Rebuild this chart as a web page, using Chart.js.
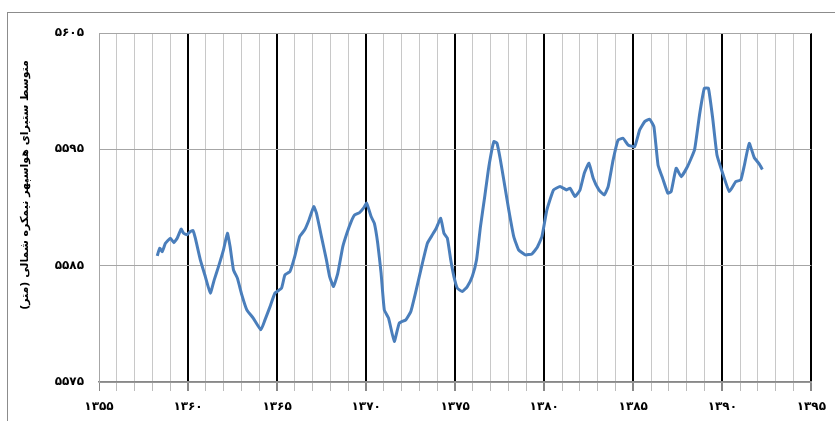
<!DOCTYPE html>
<html>
<head>
<meta charset="utf-8">
<script src="https://cdn.jsdelivr.net/npm/chart.js@4"></script>
<style>
  body { margin: 0; background: #fff; }
  #wrap { position: relative; width: 835px; height: 421px; overflow: hidden; }
  #frame { position: absolute; left: 7px; top: 12px; width: 900px; height: 500px;
           border-left: 1px solid #8c8c8c; border-top: 1px solid #8c8c8c; }
  canvas { position: absolute; left: 0; top: 0; }
</style>
</head>
<body>
<div id="wrap">
  <div id="frame"></div>
  <canvas id="thicknessChart" width="835" height="421"></canvas>
</div>
<script>
// solar hijri year (fractional) and mean thickness in metres
const years = [
  1358.27, 1358.41, 1358.55, 1358.73, 1359.01, 1359.20, 1359.39, 1359.61, 1359.75, 1359.94,
  1360.13, 1360.28, 1360.41, 1360.69, 1360.97, 1361.25, 1361.47, 1361.71, 1361.99, 1362.21,
  1362.36, 1362.55, 1362.77, 1363.02, 1363.30, 1363.66, 1364.09, 1364.32, 1364.60, 1364.88,
  1365.25, 1365.44, 1365.72, 1365.99, 1366.27, 1366.55, 1366.79, 1367.06, 1367.21, 1367.49,
  1367.77, 1367.95, 1368.17, 1368.41, 1368.69, 1368.92, 1369.16, 1369.35, 1369.63, 1369.85,
  1370.03, 1370.28, 1370.46, 1370.65, 1370.84, 1371.02, 1371.26, 1371.58, 1371.86, 1372.23,
  1372.51, 1372.79, 1373.16, 1373.44, 1373.72, 1373.94, 1374.19, 1374.37, 1374.56, 1374.75,
  1374.93, 1375.12, 1375.40, 1375.68, 1375.96, 1376.20, 1376.42, 1376.66, 1376.89, 1377.17,
  1377.35, 1377.54, 1377.73, 1378.01, 1378.29, 1378.56, 1378.94, 1379.31, 1379.59, 1379.87,
  1380.15, 1380.52, 1380.89, 1381.26, 1381.45, 1381.73, 1382.01, 1382.25, 1382.51, 1382.75,
  1383.07, 1383.37, 1383.59, 1383.87, 1384.15, 1384.43, 1384.71, 1385.08, 1385.36, 1385.64,
  1385.92, 1386.16, 1386.39, 1386.66, 1386.94, 1387.13, 1387.41, 1387.69, 1388.06, 1388.44,
  1388.72, 1388.99, 1389.22, 1389.46, 1389.70, 1390.02, 1390.39, 1390.76, 1391.04, 1391.23,
  1391.51, 1391.79, 1392.07, 1392.25
];
const thickness = [
  5585.84, 5586.50, 5586.21, 5586.93, 5587.36, 5586.98, 5587.36, 5588.14, 5587.79, 5587.65,
  5587.93, 5588.02, 5587.36, 5585.50, 5584.06, 5582.64, 5583.78, 5584.92, 5586.36, 5587.79,
  5586.64, 5584.64, 5583.93, 5582.49, 5581.20, 5580.49, 5579.48, 5580.34, 5581.46, 5582.64,
  5583.07, 5584.21, 5584.49, 5585.78, 5587.50, 5588.08, 5588.93, 5590.08, 5589.51, 5587.50,
  5585.50, 5584.06, 5583.20, 5584.36, 5586.64, 5587.79, 5588.79, 5589.36, 5589.56, 5589.94,
  5590.37, 5589.22, 5588.65, 5586.93, 5584.36, 5581.20, 5580.49, 5578.48, 5580.06, 5580.34,
  5581.06, 5582.77, 5585.21, 5586.93, 5587.65, 5588.22, 5589.08, 5587.79, 5587.36, 5585.50,
  5584.06, 5583.07, 5582.77, 5583.20, 5584.06, 5585.50, 5588.36, 5590.94, 5593.51, 5595.66,
  5595.52, 5594.09, 5592.37, 5589.79, 5587.50, 5586.36, 5585.93, 5586.01, 5586.53, 5587.50,
  5589.79, 5591.51, 5591.80, 5591.51, 5591.66, 5590.94, 5591.51, 5592.95, 5593.81, 5592.52,
  5591.51, 5591.08, 5591.80, 5594.09, 5595.81, 5595.95, 5595.38, 5595.23, 5596.67, 5597.38,
  5597.59, 5596.95, 5593.66, 5592.46, 5591.23, 5591.37, 5593.38, 5592.65, 5593.57, 5594.95,
  5597.96, 5600.25, 5600.25, 5597.67, 5594.52, 5592.95, 5591.37, 5592.23, 5592.37, 5593.57,
  5595.52, 5594.30, 5593.75, 5593.27
];

const xTickValues = [1355, 1360, 1365, 1370, 1375, 1380, 1385, 1390, 1395];
const xTickLabels = ['۱۳۵۵', '۱۳۶۰', '۱۳۶۵', '۱۳۷۰', '۱۳۷۵', '۱۳۸۰', '۱۳۸۵', '۱۳۹۰', '۱۳۹۵'];
const yTickValues = [5575, 5585, 5595, 5605];
const yTickLabels = ['۵۵۷۵', '۵۵۸۵', '۵۵۹۵', '۵۶۰۵'];
const yTitle = 'متوسط ستبرای هواسپهر نیمکره شمالی (متر)';

const tickFont = { family: '"DejaVu Sans"', size: 12, weight: 'bold' };

const yTitlePlugin = {
  id: 'yTitle',
  afterDraw(chart) {
    const c = chart.ctx;
    c.save();
    c.translate(25, 185);
    c.rotate(-Math.PI / 2);
    c.font = 'bold 11px "DejaVu Sans"';
    c.textAlign = 'center';
    c.textBaseline = 'middle';
    c.fillStyle = '#000';
    c.fillText(yTitle, 0, 0);
    c.restore();
  }
};

function isMajor(v) {
  return xTickValues.includes(v);
}

const ctx = document.getElementById('thicknessChart').getContext('2d');
new Chart(ctx, {
  type: 'line',
  data: {
    datasets: [{
      data: years.map((y, i) => ({ x: y, y: thickness[i] })),
      borderColor: '#4a7ebb',
      borderWidth: 3,
      pointRadius: 0,
      tension: 0.12,
      fill: false
    }]
  },
  options: {
    responsive: false,
    animation: false,
    layout: { padding: { top: 33, right: 23, left: 0, bottom: 0 } },
    plugins: { legend: { display: false }, tooltip: { enabled: false } },
    scales: {
      x: {
        type: 'linear',
        min: 1355,
        max: 1395,
        afterFit: s => { s.height = 39; },
        grid: {
          color: c => (isMajor(c.tick.value) && c.tick.value !== 1355) ? '#000' : '#c8c8c8',
          lineWidth: c => (isMajor(c.tick.value) && c.tick.value !== 1355) ? 2 : 1,
          tickLength: 9,
          tickColor: c => isMajor(c.tick.value) ? '#888' : '#bbb'
        },
        border: { color: '#888', width: 1.5 },
        ticks: {
          stepSize: 1,
          autoSkip: false,
          maxRotation: 0,
          padding: 9,
          color: '#000',
          font: tickFont,
          callback: v => {
            const i = xTickValues.indexOf(v);
            return i >= 0 ? xTickLabels[i] : '';
          }
        }
      },
      y: {
        min: 5575,
        max: 5605,
        afterFit: s => { s.width = 99; },
        grid: { color: '#a6a6a6', lineWidth: 1, drawTicks: false },
        border: { color: '#a6a6a6' },
        ticks: {
          stepSize: 10,
          padding: 15,
          color: '#000',
          font: tickFont,
          callback: v => {
            const i = yTickValues.indexOf(v);
            return i >= 0 ? yTickLabels[i] : '';
          }
        }
      }
    }
  },
  plugins: [yTitlePlugin]
});
</script>
</body>
</html>
